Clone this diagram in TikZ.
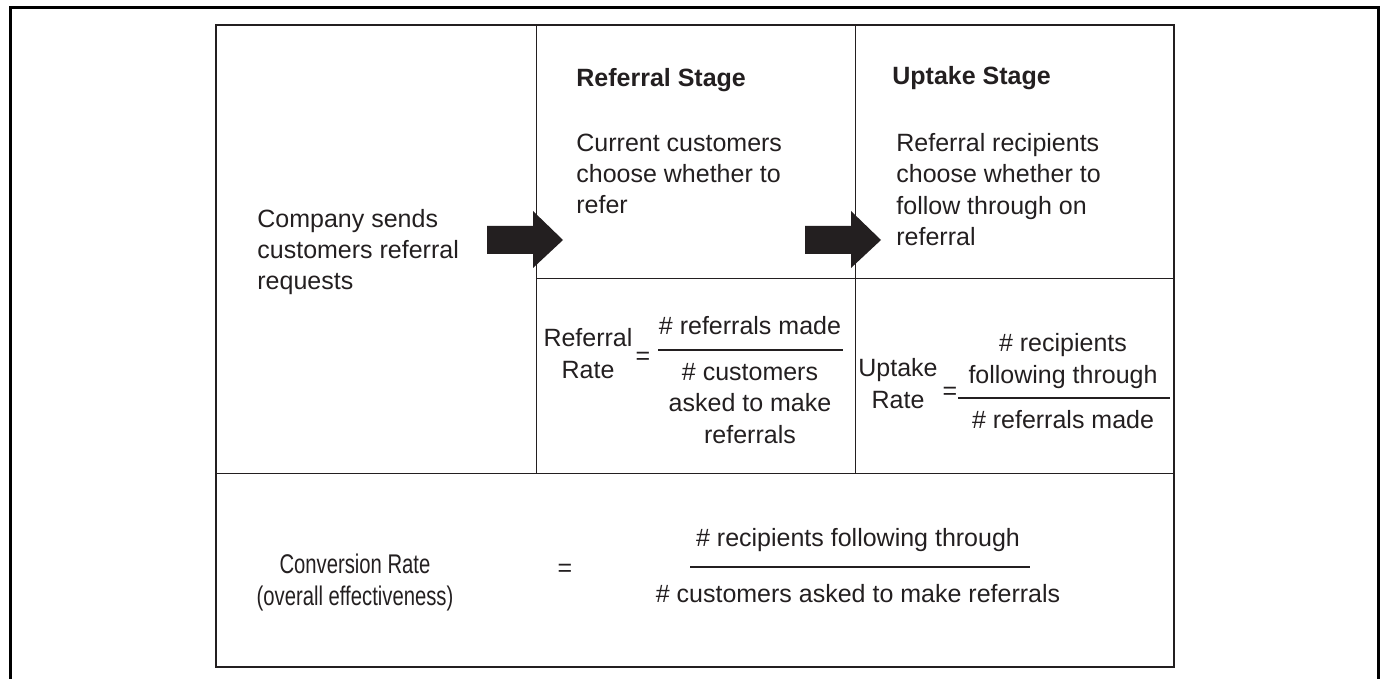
\documentclass[tikz,border=0pt]{standalone}
\usepackage{fontspec}
\setmainfont{Liberation Sans}
\newfontfamily\narrowfont[FakeStretch=0.75]{Liberation Sans}
\usetikzlibrary{calc}
\definecolor{ink}{HTML}{231F20}

\begin{document}
\begin{tikzpicture}[
    x=0.5pt, y=-0.5pt,
    txt/.style={inner sep=0pt, anchor=base west, align=left, text=ink, font=\fontsize{12.5}{15.75}\selectfont},
    ctxt/.style={txt, anchor=base, align=center},
    head/.style={txt, font=\fontsize{12.5}{15.75}\selectfont\bfseries},
    frame/.style={line width=1.5pt, draw=black},
    cell/.style={line width=0.5pt, draw=ink},
    fracline/.style={line width=0.6pt, draw=ink},
    blockarrow/.style={fill=ink},
]
\useasboundingbox (0,0) rectangle (1381,679);

% Outer frame
\draw[frame] (10,679) -- (10,8) -- (1378,8) -- (1378,679);

% Table
\draw[cell, line width=1pt] (216,25) rectangle (1174,667);
\draw[cell] (536,25) -- (536,473);
\draw[cell] (855,25) -- (855,473);
\draw[cell] (536,279) -- (1174,279);
\draw[cell] (216,473) -- (1174,473);

% Block arrows
\foreach \x in {487,805}
  \fill[blockarrow] (\x,226) -- ++(46,0) -- ++(0,-15) -- ++(30,29) -- ++(-30,28) -- ++(0,-14) -- ++(-46,0) -- cycle;

% Left column (base = last line)
\node[txt] (company) at (257,290) {Company sends\\customers referral\\requests};

% Stages
\node[head] (refstage) at (576,87) {Referral Stage};
\node[txt] (refdesc) at (576,214) {Current customers\\choose whether to\\refer};
\node[head] (upstage) at (892,85) {Uptake Stage};
\node[txt] (updesc) at (896,246) {Referral recipients\\choose whether to\\follow through on\\referral};

% Referral rate
\node[ctxt] (refrate) at (588,378) {Referral\\Rate};
\node[txt, anchor=center] (refeq) at (643,358) {=};
\node[ctxt] (refnum) at (750,335) {\# referrals made};
\node[ctxt] (refden) at (750,443) {\# customers\\asked to make\\referrals};
\draw[fracline] (658,350) -- (843,350);

% Uptake rate
\node[ctxt] (uprate) at (898,408) {Uptake\\Rate};
\node[txt, anchor=center] (upeq) at (950,393) {=};
\node[ctxt] (upnum) at (1063,383) {\# recipients\\following through};
\node[ctxt] (upden) at (1063,428) {\# referrals made};
\draw[fracline] (958,398) -- (1170,398);

% Conversion rate
\node[ctxt, font=\narrowfont\fontsize{13.5}{15.75}\selectfont] (convrate) at (355,605) {Conversion Rate\\(overall effectiveness)};
\node[txt, anchor=center] (conveq) at (565,570) {=};
\node[ctxt] (convnum) at (858,546) {\# recipients following through};
\node[ctxt] (convden) at (858,602) {\# customers asked to make referrals};
\draw[fracline] (690,567) -- (1030,567);

\end{tikzpicture}
\end{document}
